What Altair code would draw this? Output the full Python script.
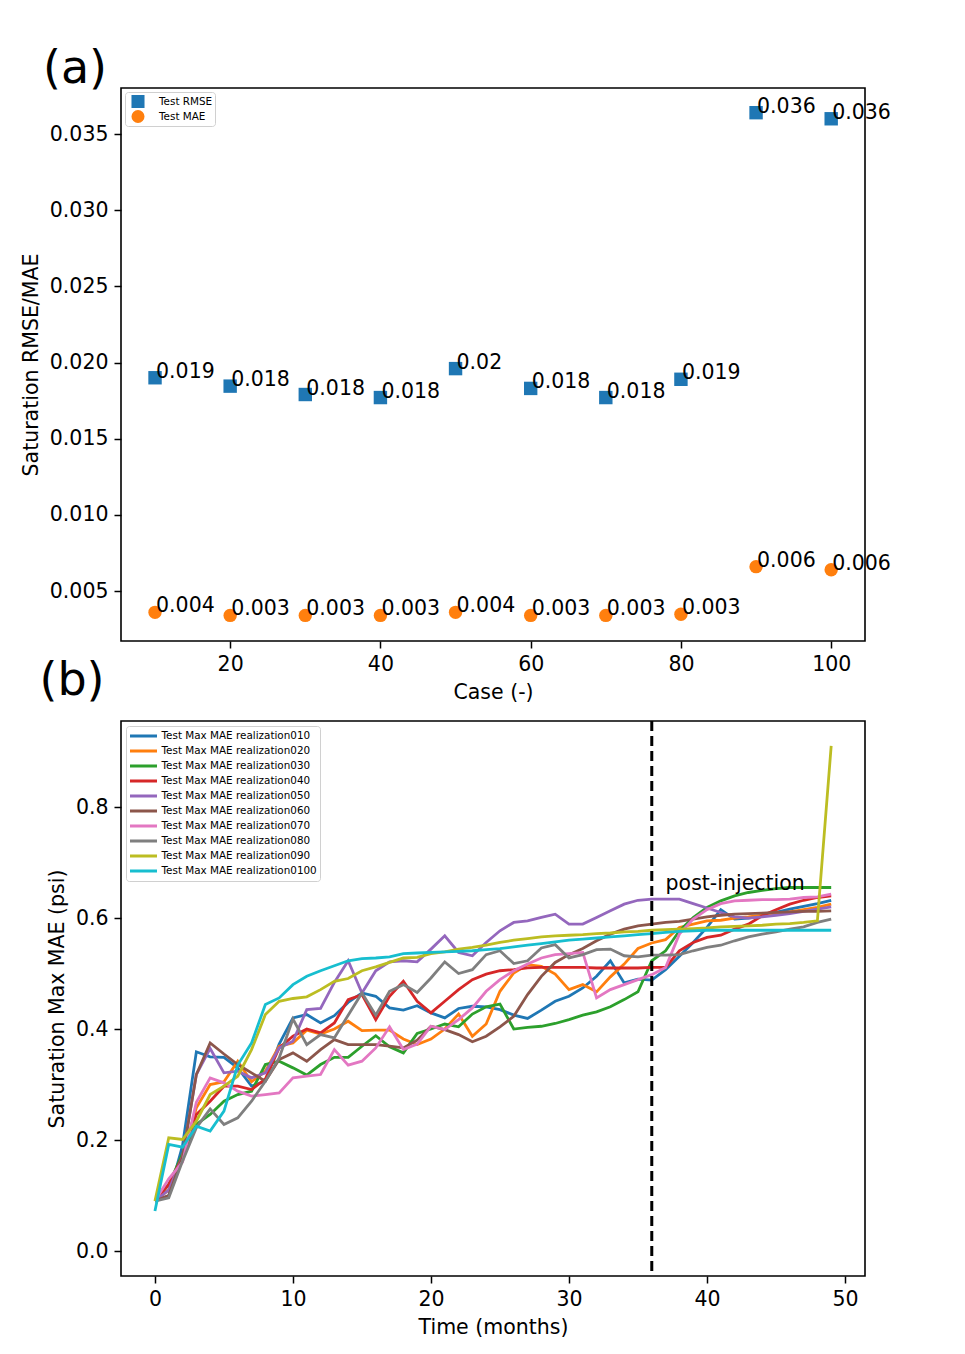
import altair as alt
import pandas as pd

# ---------------- Panel (a) data ----------------
cases = [10, 20, 30, 40, 50, 60, 70, 80, 90, 100]
rmse = [0.0190, 0.01845, 0.0179, 0.0177, 0.0196, 0.0183, 0.0177, 0.0189, 0.0364, 0.0360]
mae = [0.0036, 0.0034, 0.0034, 0.0034, 0.0036, 0.0034, 0.0034, 0.00348, 0.0066, 0.0064]
rmse_labels = ["0.019", "0.018", "0.018", "0.018", "0.02", "0.018", "0.018", "0.019", "0.036", "0.036"]
mae_labels = ["0.004", "0.003", "0.003", "0.003", "0.004", "0.003", "0.003", "0.003", "0.006", "0.006"]
series_a = ["Test RMSE", "Test MAE"]

# ---------------- Panel (b) data ----------------
months = list(range(50))
r010 = [0.090, 0.100, 0.190, 0.359, 0.350, 0.349, 0.330, 0.297, 0.306, 0.373,
        0.420, 0.426, 0.411, 0.424, 0.448, 0.465, 0.459, 0.438, 0.434, 0.442,
        0.429, 0.420, 0.437, 0.441, 0.440, 0.435, 0.425, 0.419, 0.434, 0.450,
        0.459, 0.474, 0.495, 0.523, 0.483, 0.490, 0.488, 0.507, 0.531, 0.556,
        0.583, 0.615, 0.598, 0.600, 0.604, 0.610, 0.616, 0.621, 0.626, 0.632]
r020 = [0.090, 0.110, 0.170, 0.258, 0.300, 0.305, 0.342, 0.305, 0.324, 0.369,
        0.375, 0.398, 0.391, 0.400, 0.414, 0.397, 0.398, 0.398, 0.382, 0.372,
        0.382, 0.400, 0.427, 0.387, 0.409, 0.468, 0.501, 0.516, 0.513, 0.499,
        0.471, 0.480, 0.467, 0.494, 0.517, 0.545, 0.555, 0.561, 0.583, 0.589,
        0.595, 0.596, 0.600, 0.602, 0.605, 0.608, 0.611, 0.615, 0.619, 0.625]
r030 = [0.090, 0.120, 0.175, 0.228, 0.246, 0.270, 0.282, 0.288, 0.336, 0.342,
        0.330, 0.317, 0.336, 0.349, 0.349, 0.369, 0.388, 0.368, 0.357, 0.392,
        0.400, 0.409, 0.404, 0.427, 0.440, 0.445, 0.400, 0.403, 0.405, 0.410,
        0.417, 0.425, 0.431, 0.440, 0.453, 0.467, 0.523, 0.541, 0.577, 0.601,
        0.619, 0.631, 0.640, 0.646, 0.650, 0.653, 0.655, 0.655, 0.655, 0.655]
r040 = [0.090, 0.120, 0.170, 0.246, 0.270, 0.297, 0.297, 0.291, 0.310, 0.366,
        0.387, 0.400, 0.393, 0.411, 0.453, 0.462, 0.417, 0.459, 0.486, 0.450,
        0.429, 0.450, 0.471, 0.489, 0.499, 0.505, 0.507, 0.510, 0.511, 0.511,
        0.511, 0.511, 0.510, 0.510, 0.510, 0.510, 0.511, 0.511, 0.541, 0.556,
        0.565, 0.569, 0.580, 0.589, 0.604, 0.615, 0.625, 0.632, 0.637, 0.640]
r050 = [0.090, 0.110, 0.170, 0.318, 0.365, 0.321, 0.324, 0.312, 0.321, 0.366,
        0.378, 0.435, 0.437, 0.484, 0.523, 0.465, 0.505, 0.521, 0.523, 0.521,
        0.544, 0.568, 0.538, 0.532, 0.556, 0.577, 0.592, 0.595, 0.601, 0.607,
        0.589, 0.589, 0.601, 0.613, 0.625, 0.632, 0.634, 0.634, 0.634, 0.626,
        0.618, 0.610, 0.602, 0.600, 0.602, 0.605, 0.608, 0.612, 0.616, 0.620]
r060 = [0.090, 0.100, 0.170, 0.318, 0.375, 0.355, 0.336, 0.321, 0.306, 0.345,
        0.357, 0.342, 0.363, 0.381, 0.372, 0.372, 0.372, 0.369, 0.366, 0.380,
        0.405, 0.399, 0.390, 0.377, 0.387, 0.404, 0.423, 0.462, 0.495, 0.520,
        0.534, 0.545, 0.559, 0.571, 0.580, 0.586, 0.589, 0.592, 0.594, 0.598,
        0.602, 0.605, 0.607, 0.608, 0.609, 0.610, 0.611, 0.612, 0.612, 0.613]
r070 = [0.090, 0.130, 0.160, 0.268, 0.312, 0.303, 0.288, 0.279, 0.282, 0.285,
        0.312, 0.315, 0.318, 0.363, 0.335, 0.342, 0.366, 0.404, 0.363, 0.373,
        0.405, 0.399, 0.417, 0.438, 0.468, 0.489, 0.505, 0.517, 0.528, 0.534,
        0.536, 0.538, 0.456, 0.471, 0.480, 0.489, 0.498, 0.511, 0.571, 0.598,
        0.615, 0.626, 0.631, 0.632, 0.633, 0.633, 0.634, 0.637, 0.638, 0.643]
r080 = [0.090, 0.096, 0.162, 0.222, 0.256, 0.228, 0.240, 0.270, 0.306, 0.348,
        0.418, 0.372, 0.390, 0.384, 0.425, 0.465, 0.425, 0.468, 0.480, 0.466,
        0.492, 0.521, 0.500, 0.507, 0.534, 0.541, 0.518, 0.523, 0.546, 0.552,
        0.528, 0.534, 0.543, 0.544, 0.532, 0.530, 0.533, 0.533, 0.534, 0.541,
        0.547, 0.551, 0.559, 0.566, 0.571, 0.575, 0.580, 0.584, 0.592, 0.598]
r090 = [0.090, 0.204, 0.201, 0.234, 0.282, 0.297, 0.315, 0.363, 0.426, 0.450,
        0.455, 0.458, 0.471, 0.486, 0.491, 0.505, 0.512, 0.520, 0.528, 0.529,
        0.536, 0.539, 0.544, 0.547, 0.551, 0.556, 0.560, 0.563, 0.566, 0.568,
        0.569, 0.570, 0.572, 0.573, 0.575, 0.576, 0.578, 0.579, 0.580, 0.581,
        0.582, 0.584, 0.585, 0.586, 0.587, 0.589, 0.590, 0.592, 0.595, 0.910]
r0100 = [0.072, 0.192, 0.187, 0.225, 0.216, 0.252, 0.335, 0.375, 0.444, 0.456,
         0.480, 0.495, 0.505, 0.514, 0.523, 0.527, 0.528, 0.530, 0.536, 0.537,
         0.538, 0.539, 0.540, 0.541, 0.543, 0.545, 0.548, 0.551, 0.554, 0.557,
         0.560, 0.562, 0.564, 0.566, 0.568, 0.570, 0.572, 0.574, 0.576, 0.577,
         0.578, 0.578, 0.578, 0.578, 0.578, 0.578, 0.578, 0.578, 0.578, 0.578]
series_b = ["Test Max MAE realization010", "Test Max MAE realization020",
            "Test Max MAE realization030", "Test Max MAE realization040",
            "Test Max MAE realization050", "Test Max MAE realization060",
            "Test Max MAE realization070", "Test Max MAE realization080",
            "Test Max MAE realization090", "Test Max MAE realization0100"]
injection_end = [36]
annot_x = [37]
annot_y = [0.65]
annot_text = ["post-injection"]

tab10 = ["#1f77b4", "#ff7f0e", "#2ca02c", "#d62728", "#9467bd",
         "#8c564b", "#e377c2", "#7f7f7f", "#bcbd22", "#17becf"]
FONT = "DejaVu Sans"
FS = 20.5

# ---------------- Build panel (a) ----------------
df_a = pd.DataFrame({
    "case": cases + cases,
    "value": rmse + mae,
    "label": rmse_labels + mae_labels,
    "series": [series_a[0]] * len(cases) + [series_a[1]] * len(cases),
})

xa = alt.X("case:Q", scale=alt.Scale(domain=[5.47, 104.5], nice=False, zero=False),
           axis=alt.Axis(values=[20, 40, 60, 80, 100], title="Case (-)"))
ya = alt.Y("value:Q", scale=alt.Scale(domain=[0.00172, 0.03802], nice=False, zero=False),
           axis=alt.Axis(values=[0.005, 0.010, 0.015, 0.020, 0.025, 0.030, 0.035],
                         format=".3f", title="Saturation RMSE/MAE"))

legend_a = alt.Legend(title=None, orient="top-left", offset=4, labelFontSize=10.4,
                      labelFont=FONT, symbolSize=170, clipHeight=15, rowPadding=0,
                      padding=2, strokeColor="#d0d0d0", fillColor="white",
                      cornerRadius=3, symbolOpacity=1, labelOffset=14, symbolOffset=4,
                      symbolStrokeWidth=0)

points_a = alt.Chart(df_a).mark_point(filled=True, opacity=1, size=180).encode(
    x=xa, y=ya,
    color=alt.Color("series:N", scale=alt.Scale(domain=series_a, range=["#1f77b4", "#ff7f0e"]),
                    legend=legend_a),
    shape=alt.Shape("series:N", scale=alt.Scale(domain=series_a, range=["square", "circle"]),
                    legend=legend_a),
)
text_a = alt.Chart(df_a).mark_text(align="left", baseline="alphabetic", dx=1, fontSize=FS,
                                   font=FONT, color="black").encode(
    x=xa, y=ya, text="label:N")
tag_a = alt.Chart(pd.DataFrame({"t": ["(a)"]})).mark_text(
    fontSize=46, font=FONT, color="black", align="center", baseline="middle").encode(
    x=alt.value(-46), y=alt.value(-19), text="t:N")

panel_a = alt.layer(points_a, text_a, tag_a).properties(width=744, height=553)

# ---------------- Build panel (b) ----------------
all_series = [r010, r020, r030, r040, r050, r060, r070, r080, r090, r0100]
rows = []
for name, vals in zip(series_b, all_series):
    for m, v in zip(months, vals):
        rows.append({"month": m, "value": v, "series": name})
df_b = pd.DataFrame(rows)

xb = alt.X("month:Q", scale=alt.Scale(domain=[-2.46, 51.45], nice=False, zero=False),
           axis=alt.Axis(values=[0, 10, 20, 30, 40, 50], title="Time (months)"))
yb = alt.Y("value:Q", scale=alt.Scale(domain=[-0.045, 0.955], nice=False, zero=False),
           axis=alt.Axis(values=[0.0, 0.2, 0.4, 0.6, 0.8], format=".1f",
                         title="Saturation Max MAE (psi)"))

legend_b = alt.Legend(title=None, orient="top-left", offset=5, labelFontSize=10.4,
                      labelFont=FONT, symbolType="stroke", symbolSize=729,
                      symbolStrokeWidth=2.8, clipHeight=15, rowPadding=0, padding=2.5,
                      strokeColor="#d0d0d0", fillColor="white", cornerRadius=3,
                      labelOffset=3, labelLimit=400)

lines_b = alt.Chart(df_b).mark_line(strokeWidth=2.8).encode(
    x=xb, y=yb,
    color=alt.Color("series:N", scale=alt.Scale(domain=series_b, range=tab10), legend=legend_b),
    order="month:Q",
)
rule_b = alt.Chart(pd.DataFrame({"month": injection_end})).mark_rule(
    color="black", strokeWidth=3, strokeDash=[10, 5]).encode(x=alt.X("month:Q"))
annot_b = alt.Chart(pd.DataFrame({"month": annot_x, "value": annot_y, "t": annot_text})).mark_text(
    align="left", baseline="alphabetic", fontSize=FS, font=FONT, color="black").encode(
    x=alt.X("month:Q"), y=alt.Y("value:Q"), text="t:N")
tag_b = alt.Chart(pd.DataFrame({"t": ["(b)"]})).mark_text(
    fontSize=46, font=FONT, color="black", align="center", baseline="middle").encode(
    x=alt.value(-49), y=alt.value(-40), text="t:N")

panel_b = alt.layer(lines_b, rule_b, annot_b, tag_b).properties(width=744, height=555)

chart = alt.vconcat(panel_a, panel_b, spacing=80, bounds="flush").resolve_scale(
    color="independent", shape="independent"
).resolve_legend(
    color="independent", shape="independent"
).properties(
    padding={"left": 12, "top": 37, "right": 5, "bottom": 5}
).configure(font=FONT).configure_axis(
    labelFont=FONT, titleFont=FONT, labelFontSize=FS, titleFontSize=FS,
    titleFontWeight="normal", labelColor="black", titleColor="black",
    tickColor="black", tickSize=7, tickWidth=1.5, domain=False, grid=False,
    labelPadding=6, titlePadding=8,
).configure_view(stroke="black", strokeWidth=1.6)

chart.save("out.html", embed_options={"renderer": "svg", "actions": False})
